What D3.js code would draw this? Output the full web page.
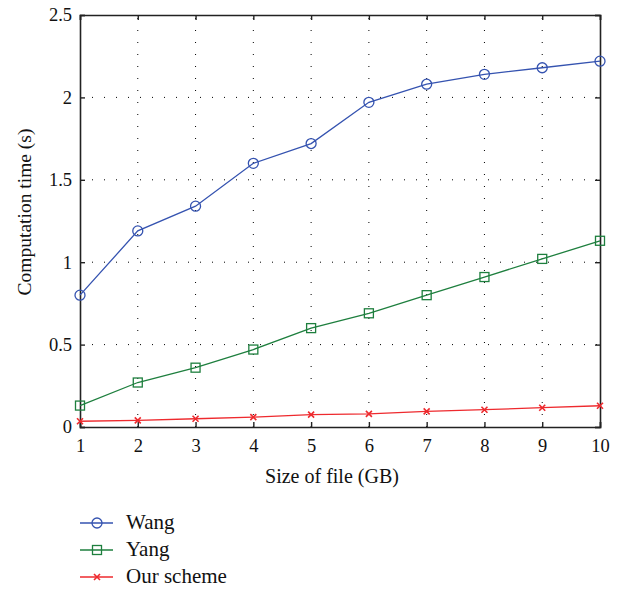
<!DOCTYPE html>
<html><head><meta charset="utf-8">
<script src="https://cdn.jsdelivr.net/npm/d3@7"></script>
<style>body{margin:0;background:#fff}svg{display:block}</style>
</head><body>
<script>
const fileSizes = [1,2,3,4,5,6,7,8,9,10];
const wang = [0.80,1.19,1.34,1.60,1.72,1.97,2.08,2.14,2.18,2.22];
const yang = [0.13,0.27,0.36,0.47,0.60,0.69,0.80,0.91,1.02,1.13];
const ours = [0.035,0.04,0.05,0.06,0.075,0.08,0.095,0.105,0.117,0.129];
const seriesNames = ["Wang","Yang","Our scheme"];
const yTicks = [0,0.5,1,1.5,2,2.5];
const yTickLabels = ["0","0.5","1","1.5","2","2.5"];
const xTicks = [1,2,3,4,5,6,7,8,9,10];

const W=618,H=590;
const m={l:80,r:600,t:15,b:427};
const font="'Liberation Serif', 'Times New Roman', serif";
const svg=d3.select("body").append("svg").attr("width",W).attr("height",H);
const x=d3.scaleLinear().domain([1,10]).range([m.l,m.r]);
const y=d3.scaleLinear().domain([0,2.5]).range([m.b,m.t]);

// grid
const g=svg.append("g");
g.selectAll(".vg").data(xTicks.slice(1,-1)).join("line")
 .attr("x1",d=>x(d)).attr("x2",d=>x(d)).attr("y1",m.b).attr("y2",m.t)
 .attr("stroke","#000").attr("stroke-width",1).attr("stroke-dasharray","1,11");
g.selectAll(".hg").data(yTicks.slice(1,-1)).join("line")
 .attr("y1",d=>y(d)).attr("y2",d=>y(d)).attr("x1",m.l).attr("x2",m.r)
 .attr("stroke","#000").attr("stroke-width",1).attr("stroke-dasharray","1,11");

// axes
const xAxis=svg.append("g").attr("transform",`translate(0,${m.b})`)
 .call(d3.axisBottom(x).tickValues(xTicks).tickSize(-5).tickPadding(12).tickFormat(d3.format("d")));
const xAxisT=svg.append("g").attr("transform",`translate(0,${m.t})`)
 .call(d3.axisTop(x).tickValues(xTicks).tickSize(-5).tickFormat(""));
const yAxis=svg.append("g").attr("transform",`translate(${m.l},0)`)
 .call(d3.axisLeft(y).tickValues(yTicks).tickSize(-5).tickPadding(8).tickFormat((d,i)=>yTickLabels[i]));
const yAxisR=svg.append("g").attr("transform",`translate(${m.r},0)`)
 .call(d3.axisRight(y).tickValues(yTicks).tickSize(-5).tickFormat(""));
[xAxis,xAxisT,yAxis,yAxisR].forEach(a=>{
 a.select(".domain").attr("stroke","#222").attr("stroke-width",1.6);
 a.selectAll(".tick line").attr("stroke","#222").attr("stroke-width",1.4);
 a.selectAll("text").attr("font-family",font).attr("font-size",18.5).attr("fill","#111");
});

// labels
svg.append("text").attr("x",332).attr("y",483).attr("text-anchor","middle")
 .attr("font-family",font).attr("font-size",20).attr("fill","#111").text("Size of file (GB)");
svg.append("text").attr("transform",`translate(31,212) rotate(-90)`).attr("text-anchor","middle")
 .attr("font-family",font).attr("font-size",19.5).attr("fill","#111").text("Computation time (s)");

const colors=["#3553b0","#1e7f3e","#ee2a2e"];
const data=[wang,yang,ours];
const line=d3.line().x((d,i)=>x(fileSizes[i])).y(d=>y(d));

function marker(sel,type,color){
 if(type===0){
  sel.append("circle").attr("r",5).attr("fill","none").attr("stroke",color).attr("stroke-width",1.3);
 } else if(type===1){
  sel.append("rect").attr("x",-4.5).attr("y",-4.5).attr("width",9).attr("height",9).attr("fill","none").attr("stroke",color).attr("stroke-width",1.3);
 } else {
  sel.append("path").attr("d","M-3,-3L3,3M-3,3L3,-3").attr("stroke",color).attr("stroke-width",1.6);
 }
}

data.forEach((vals,k)=>{
 svg.append("path").datum(vals).attr("d",line).attr("fill","none").attr("stroke",colors[k]).attr("stroke-width",1.3);
 vals.forEach((v,i)=>{
  const gg=svg.append("g").attr("transform",`translate(${x(fileSizes[i])},${y(v)})`);
  marker(gg,k,colors[k]);
 });
});

// legend
const ly=[523,550,577];
seriesNames.forEach((n,k)=>{
 svg.append("line").attr("x1",80).attr("x2",113).attr("y1",ly[k]).attr("y2",ly[k]).attr("stroke",colors[k]).attr("stroke-width",1.3);
 const gg=svg.append("g").attr("transform",`translate(97,${ly[k]})`);
 marker(gg,k,colors[k]);
 svg.append("text").attr("x",126).attr("y",ly[k]+6).attr("font-family",font).attr("font-size",21).attr("fill","#111").text(n);
});
</script>
</body></html>
